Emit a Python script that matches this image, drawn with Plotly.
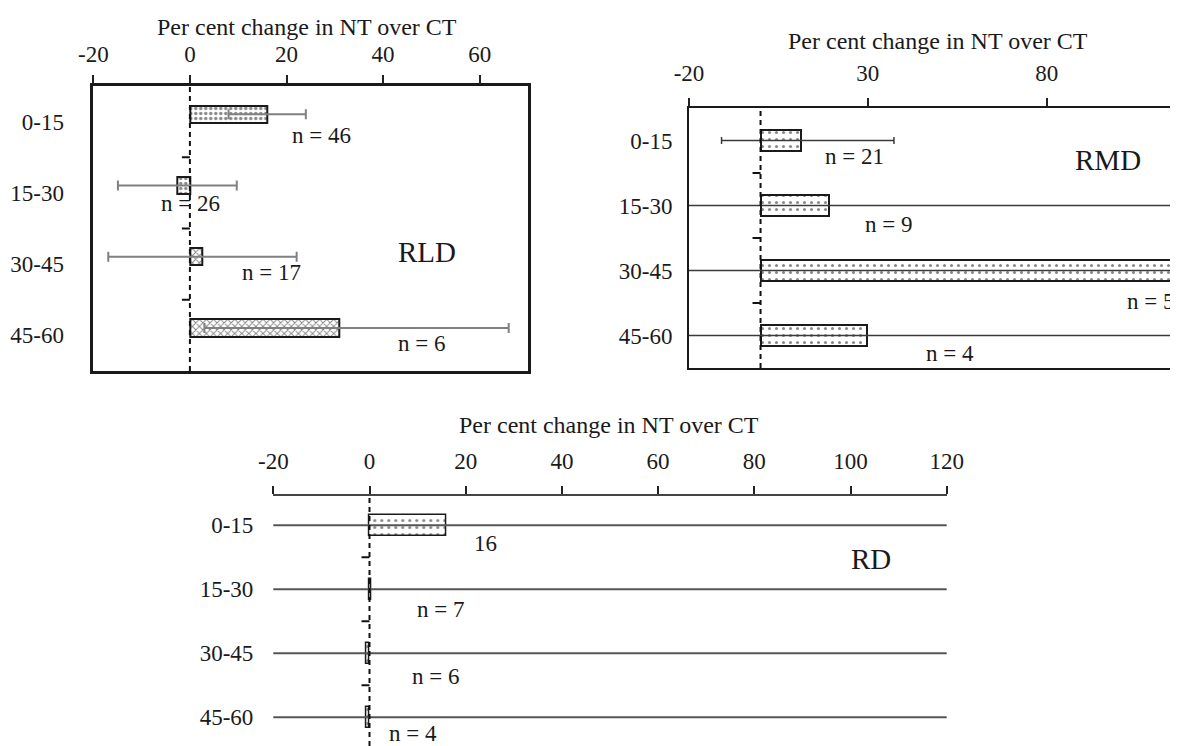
import plotly.graph_objects as go

# ---------------- data ----------------
depths = ["0-15", "15-30", "30-45", "45-60"]

# Root length density (RLD)
rld_values = [16, -2.6, 2.6, 31]
rld_err_plus = [8, 12.3, 19.5, 35]
rld_err_minus = [8, 12.3, 19.5, 28]
rld_n = ["n = 46", "n = 26", "n = 17", "n = 6"]
rld_ticks = [-20, 0, 20, 40, 60]

# Root mass density (RMD)  (error bars of 15-60 cm exceed the axis range)
rmd_values = [11.4, 19.1, 125, 29.7]
rmd_err_plus = [25.9, 200, 200, 200]
rmd_err_minus = [22.3, 200, 200, 200]
rmd_n = ["n = 21", "n = 9", "n = 5", "n = 4"]
rmd_ticks = [-20, 30, 80]

# Root diameter (RD)  (error bars exceed the axis range)
rd_values = [16, 0.4, -0.7, -0.7]
rd_err = [200, 200, 200, 200]
rd_n = ["16", "n = 7", "n = 6", "n = 4"]
rd_ticks = [-20, 0, 20, 40, 60, 80, 100, 120]

panel_names = ["RLD", "RMD", "RD"]
axis_title = "Per cent change in NT over CT"

# ---------------- layout helpers ----------------
PAGE_W, PAGE_H = 1178, 746
OFF = 8                      # default page margin around the plot div
W, H = PAGE_W - OFF, PAGE_H - OFF
FONT = "Liberation Serif, Times New Roman, serif"


def fx(px):
    return (px - OFF) / W


def fy(py):
    return 1 - (py - OFF) / H


def ticktext(vals):
    return [str(v) for v in vals]


fig = go.Figure()

patterns_rld = [".", ".", "x", "x"]

fig.add_trace(go.Bar(
    y=depths, x=rld_values, orientation="h", xaxis="x", yaxis="y",
    width=0.244, offset=-0.226,
    marker=dict(color="white", line=dict(color="#1a1a1a", width=2),
                pattern=dict(shape=patterns_rld, fgcolor="#111", bgcolor="white",
                             size=5, solidity=0.35)),
    error_x=dict(type="data", symmetric=False, array=rld_err_plus,
                 arrayminus=rld_err_minus, color="#808080", thickness=2, width=5),
    showlegend=False, hoverinfo="x+y",
))

fig.add_trace(go.Bar(
    y=depths, x=rmd_values, orientation="h", xaxis="x2", yaxis="y2",
    width=0.33,
    marker=dict(color="white", line=dict(color="#1a1a1a", width=2),
                pattern=dict(shape=".", fgcolor="#111", bgcolor="white",
                             size=7, solidity=0.15)),
    error_x=dict(type="data", symmetric=False, array=rmd_err_plus,
                 arrayminus=rmd_err_minus, color="#3a3a3a", thickness=1.5, width=3.5),
    showlegend=False, hoverinfo="x+y",
))

fig.add_trace(go.Bar(
    y=depths, x=rd_values, orientation="h", xaxis="x3", yaxis="y3",
    width=0.33,
    marker=dict(color="white", line=dict(color="#1a1a1a", width=1.5),
                pattern=dict(shape=".", fgcolor="#111", bgcolor="white",
                             size=7, solidity=0.15)),
    error_x=dict(type="data", symmetric=True, array=rd_err,
                 color="#555555", thickness=2, width=0),
    showlegend=False, hoverinfo="x+y",
))

tickfont = dict(family=FONT, size=23, color="#1a1a1a")

xcommon = dict(side="top", ticks="outside", ticklen=8, tickwidth=1.5,
               tickcolor="#222", showgrid=False, zeroline=False,
               tickfont=tickfont, fixedrange=True, automargin=False,
               tickmode="array")
ycommon = dict(type="category", categoryorder="array", categoryarray=depths,
               showgrid=False, zeroline=False, ticks="", tickfont=tickfont,
               fixedrange=True, automargin=False)

fig.update_layout(
    width=W, height=H, margin=dict(l=0, r=0, t=0, b=0, pad=0, autoexpand=False),
    paper_bgcolor="white", plot_bgcolor="white",
    font=dict(family=FONT, color="#1a1a1a"),
    bargap=0,
    # RLD panel
    xaxis=dict(xcommon, domain=[fx(93.3), fx(528)], range=[-20, 70],
               tickvals=rld_ticks, ticktext=ticktext(rld_ticks),
               anchor="y", showline=True, mirror=True, linecolor="#1a1a1a",
               linewidth=2.5, ticklabelstandoff=4),
    yaxis=dict(ycommon, domain=[fy(371), fy(86)], range=[3.5, -0.5], anchor="x",
               showline=True, mirror=True, linecolor="#1a1a1a", linewidth=2.5,
               ticklabelstandoff=22),
    # RMD panel
    xaxis2=dict(xcommon, domain=[fx(689), 1.0],
                range=[-20, -20 + (PAGE_W - 689) / 3.577],
                tickvals=rmd_ticks, ticktext=ticktext(rmd_ticks),
                anchor="y2", showline=True, mirror=True,
                linecolor="#1a1a1a", linewidth=2, ticklabelstandoff=8),
    yaxis2=dict(ycommon, domain=[fy(368), fy(108)], range=[3.5, -0.5], anchor="x2",
                showline=True, mirror=False, linecolor="#1a1a1a", linewidth=2,
                ticklabelstandoff=10),
    # RD panel
    xaxis3=dict(xcommon, domain=[fx(273.3), fx(946.7)], range=[-20, 120],
                tickvals=rd_ticks, ticktext=ticktext(rd_ticks),
                anchor="y3", showline=True, mirror=False, linecolor="#444",
                linewidth=2, ticklabelstandoff=8),
    yaxis3=dict(ycommon, domain=[0, fy(496)],
                range=[(PAGE_H - 525.3) / 64, (496 - 525.3) / 64], anchor="x3",
                showline=False, ticklabelstandoff=19),
)

# zero reference (dashed) lines and category boundary ticks
axes = [("x", "y"), ("x2", "y2"), ("x3", "y3")]
for xa, ya in axes:
    fig.add_shape(type="line", xref=xa, yref=f"{ya} domain", x0=0, x1=0, y0=0, y1=1,
                  line=dict(color="#111", width=2, dash="5px,4px"), layer="above")
    for k in range(len(depths) - 1):
        fig.add_shape(type="line", xref=xa, yref=ya, xsizemode="pixel", xanchor=0,
                      x0=-8, x1=0, y0=k + 0.5, y1=k + 0.5,
                      line=dict(color="#111", width=2), layer="above")

# n labels (x, y, horizontal anchor)
n_pos = {
    "x": ([27.3, 0.2, 16.9, 48.0], [0.2, 1.156, 2.115, 3.118],
          ["center"] * 4, rld_n),
    "x2": ([26.2, 35.9, 116.2, 53.1], [0.249, 1.3, 2.48, 3.274],
           ["center", "center", "right", "center"], rmd_n),
    "x3": ([24.2, 14.7, 13.7, 9.1], [0.28, 1.32, 2.37, 3.26],
           ["center"] * 4, rd_n),
}
for (xa, ya) in axes:
    xs, ys, anchors, labels = n_pos[xa]
    for xv, yv, anc, lab in zip(xs, ys, anchors, labels):
        fig.add_annotation(x=xv, y=yv, xref=xa, yref=ya, text=lab, showarrow=False,
                           font=dict(family=FONT, size=23, color="#1a1a1a"),
                           xanchor=anc, yanchor="middle")

# panel names
name_pos = [(49.1, 1.834), (97.2, 0.3), (104.3, 0.52)]
for (xa, ya), name, (xv, yv) in zip(axes, panel_names, name_pos):
    fig.add_annotation(x=xv, y=yv, xref=xa, yref=ya, text=name, showarrow=False,
                       font=dict(family=FONT, size=29, color="#1a1a1a"),
                       xanchor="center", yanchor="middle")

# axis titles
title_pos = [(307, 26.7), (938, 41), (609.5, 425)]
for (px, py) in title_pos:
    fig.add_annotation(x=fx(px), y=fy(py), xref="paper", yref="paper", text=axis_title,
                       showarrow=False, font=dict(family=FONT, size=24, color="#1a1a1a"),
                       xanchor="center", yanchor="middle")

fig.write_html("out.html")
